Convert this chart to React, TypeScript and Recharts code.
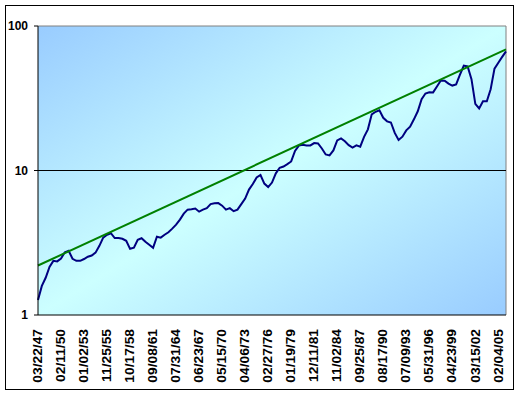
import React from 'react'
import { LineChart, Line, XAxis, YAxis, CartesianGrid, ReferenceLine } from 'recharts'

const DATE_LABELS = [
  '03/22/47', '02/11/50', '01/02/53', '11/25/55', '10/17/58', '09/08/61', '07/31/64',
  '06/23/67', '05/15/70', '04/06/73', '02/27/76', '01/19/79', '12/11/81', '11/02/84',
  '09/25/87', '08/17/90', '07/09/93', '05/31/96', '04/23/99', '03/15/02', '02/04/05',
]

// points per date label on the category axis
const STEPS_PER_LABEL = 6

const PRICE = [
  1.27, 1.59, 1.81, 2.15, 2.37, 2.35, 2.46, 2.72, 2.78, 2.45,
  2.37, 2.37, 2.44, 2.53, 2.58, 2.70, 3.01, 3.43, 3.59, 3.68,
  3.41, 3.41, 3.37, 3.26, 2.87, 2.92, 3.32, 3.40, 3.21, 3.06,
  2.92, 3.48, 3.43, 3.59, 3.74, 3.96, 4.22, 4.57, 5.03, 5.36,
  5.40, 5.45, 5.19, 5.36, 5.48, 5.85, 5.93, 5.95, 5.71, 5.36,
  5.49, 5.23, 5.36, 5.85, 6.39, 7.38, 8.06, 8.94, 9.31, 8.12,
  7.68, 8.25, 9.56, 10.44, 10.66, 11.06, 11.55, 13.66, 14.86, 15.07,
  14.92, 14.92, 15.48, 15.40, 14.21, 12.92, 12.71, 13.77, 16.15, 16.68,
  15.95, 14.99, 14.42, 14.92, 14.61, 17.09, 19.27, 24.48, 25.49, 26.10,
  23.15, 21.89, 21.48, 18.21, 16.26, 17.14, 18.95, 20.12, 22.6, 25.7,
  31.1, 34.1, 34.8, 34.7, 38.1, 42.0, 41.8, 39.9, 38.7, 39.4,
  46.0, 53.2, 52.5, 42.9, 28.9, 26.9, 30.1, 30.1, 36.5, 50.7,
  55.7, 61.1, 66.8,
]

// trend line: first and last value only, joined straight
const TREND = [2.2, 69]

const Y_TICKS = [1, 10, 100]

const LAST = PRICE.length - 1

const data = PRICE.map((v, i) => ({
  i,
  price: v,
  trend: i === 0 ? TREND[0] : i === LAST ? TREND[1] : null,
}))

const xTicks = DATE_LABELS.map((_, k) => k * STEPS_PER_LABEL)

const DateTick = (props: any) => {
  const { x, y, payload } = props
  return (
    <text
      transform={`translate(${x},${y}) rotate(-90) scale(1.15,1)`}
      textAnchor="end"
      dy="0.35em"
      fontSize={12}
      fontWeight="bold"
      fill="#000"
    >
      {DATE_LABELS[Math.round(payload.value / STEPS_PER_LABEL)]}
    </text>
  )
}

const App = () => {
  return (
    <div style={{ position: 'absolute', left: 0, top: 0, width: 523, height: 397, background: '#fff' }}>
      <svg width={0} height={0} style={{ position: 'absolute' }}>
        <defs>
          <linearGradient id="plotBg" x1="0" y1="0" x2="1" y2="1">
            <stop offset="0%" stopColor="#99CCFF" />
            <stop offset="50%" stopColor="#CCFFFF" />
            <stop offset="100%" stopColor="#99CCFF" />
          </linearGradient>
        </defs>
      </svg>
      <LineChart
        width={523}
        height={397}
        data={data}
        margin={{ top: 26, right: 17, left: 0, bottom: 0 }}
        style={{ fontFamily: '"Liberation Sans", Arial, sans-serif' }}
      >
        <CartesianGrid fill="url(#plotBg)" horizontal={false} vertical={false} />
        <XAxis
          dataKey="i"
          type="number"
          domain={[0, LAST]}
          ticks={xTicks}
          interval={0}
          height={82}
          tickLine={false}
          tickMargin={8}
          axisLine={{ stroke: '#000' }}
          tick={<DateTick />}
        />
        <YAxis
          scale="log"
          type="number"
          domain={[1, 100]}
          ticks={Y_TICKS}
          allowDataOverflow
          width={38}
          tickSize={4}
          tickMargin={6}
          axisLine={{ stroke: '#000' }}
          tickLine={{ stroke: '#000' }}
          tick={{ fontSize: 12, fontWeight: 'bold', fill: '#000' }}
        />
        <ReferenceLine y={100} stroke="#808080" />
        <ReferenceLine x={LAST} stroke="#808080" />
        <ReferenceLine y={10} stroke="#000" />
        <Line
          dataKey="price"
          type="linear"
          stroke="#000080"
          strokeWidth={2}
          dot={false}
          isAnimationActive={false}
        />
        <Line
          dataKey="trend"
          type="linear"
          stroke="#008000"
          strokeWidth={2}
          dot={false}
          connectNulls
          isAnimationActive={false}
        />
      </LineChart>
      <div
        style={{
          position: 'absolute',
          left: 5,
          top: 5,
          width: 507,
          height: 383,
          border: '1px solid #000',
          pointerEvents: 'none',
        }}
      />
    </div>
  )
}

export default App
